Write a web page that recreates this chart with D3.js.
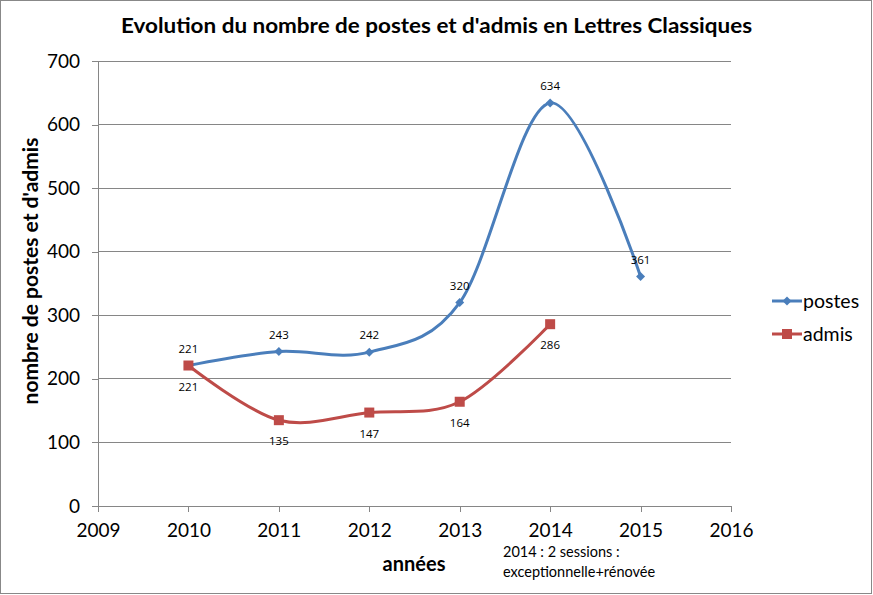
<!DOCTYPE html>
<html><head><meta charset="utf-8">
<script src="https://cdn.jsdelivr.net/npm/d3@7"></script>
<style>body{margin:0;background:#fff}svg{display:block;font-family:Lato,"Open Sans",sans-serif}</style>
</head><body><svg id="c" width="873" height="595"></svg>
<script>
const years = [2010, 2011, 2012, 2013, 2014, 2015];
const postes = [221, 243, 242, 320, 634, 361];
const admisYears = [2010, 2011, 2012, 2013, 2014];
const admis = [221, 135, 147, 164, 286];
const xTicks = [2009, 2010, 2011, 2012, 2013, 2014, 2015, 2016];
const yTicks = [0, 100, 200, 300, 400, 500, 600, 700];
const title = "Evolution du nombre de postes et d'admis en Lettres Classiques";
const yTitle = "nombre de postes et d'admis";
const xTitle = "années";
const note = ["2014 : 2 sessions :", "exceptionnelle+rénovée"];
const seriesNames = ["postes", "admis"];
const colors = ["#4a7ebb", "#be4b48"];

const svg = d3.select("#c");
svg.append("rect").attr("x",0.5).attr("y",0.5).attr("width",871).attr("height",593)
  .attr("fill","#fff").attr("stroke","#888");

const x = d3.scaleLinear().domain([2009,2016]).range([98,731]);
const y = d3.scaleLinear().domain([0,700]).range([506,61]);

// gridlines
svg.append("g").selectAll("line").data(yTicks.filter(d=>d>0)).join("line")
  .attr("x1",x(2009)).attr("x2",x(2016)).attr("y1",d=>y(d)).attr("y2",d=>y(d))
  .attr("stroke","#868686").attr("stroke-width",1).attr("shape-rendering","crispEdges");

// axes
const yAxis = d3.axisLeft(y).tickValues(yTicks).tickSize(6).tickPadding(12);
const gy = svg.append("g").attr("transform",`translate(${x(2009)},0)`).call(yAxis);
const xAxis = d3.axisBottom(x).tickValues(xTicks).tickFormat(d3.format("d")).tickSize(6).tickPadding(14);
const gx = svg.append("g").attr("transform",`translate(0,${y(0)})`).call(xAxis);
[gx,gy].forEach(g=>{
  g.selectAll("path,line").attr("stroke","#868686").attr("shape-rendering","crispEdges");
  g.selectAll("text").attr("font-size",19).attr("fill","#000").attr("font-family","Lato, sans-serif");
});
gx.selectAll("text").attr("dy","0.6em");
gx.select(".domain").attr("d",`M${x(2009)},0.5H${x(2016)}`);
gy.select(".domain").attr("d",`M0.5,${y(0)}V${y(700)}`);

const line = d3.line().x(d=>x(d[0])).y(d=>y(d[1])).curve(d3.curveCatmullRom.alpha(0));
const pData = years.map((yr,i)=>[yr,postes[i]]);
const aData = admisYears.map((yr,i)=>[yr,admis[i]]);

svg.append("path").datum(pData).attr("d",line).attr("fill","none").attr("stroke",colors[0]).attr("stroke-width",3);
svg.append("path").datum(aData).attr("d",line).attr("fill","none").attr("stroke",colors[1]).attr("stroke-width",3);

svg.append("g").selectAll("path").data(pData).join("path")
  .attr("d",d3.symbol().type(d3.symbolSquare).size(40)())
  .attr("transform",d=>`translate(${x(d[0])},${y(d[1])}) rotate(45)`).attr("fill",colors[0]);
svg.append("g").selectAll("rect").data(aData).join("rect")
  .attr("x",d=>x(d[0])-5).attr("y",d=>y(d[1])-5).attr("width",10).attr("height",10).attr("fill",colors[1]);

// data labels
svg.append("g").selectAll("text").data(pData).join("text")
  .attr("x",d=>x(d[0])).attr("y",d=>y(d[1])-13).attr("text-anchor","middle")
  .attr("font-size",11.5).attr("font-family","'Open Sans', sans-serif").attr("fill","#000").text(d=>d[1]);
svg.append("g").selectAll("text").data(aData).join("text")
  .attr("x",d=>x(d[0])).attr("y",d=>y(d[1])+25).attr("text-anchor","middle")
  .attr("font-size",11.5).attr("font-family","'Open Sans', sans-serif").attr("fill","#000").text(d=>d[1]);

// titles
svg.append("text").attr("x",121).attr("y",33)
  .attr("font-size",21).attr("font-weight","bold")
  .attr("textLength",631).attr("lengthAdjust","spacingAndGlyphs").text(title);
svg.append("text").attr("transform","translate(38,271) rotate(-90)").attr("text-anchor","middle")
  .attr("font-size",21).attr("font-weight","bold").text(yTitle);
svg.append("text").attr("x",414).attr("y",571).attr("text-anchor","middle")
  .attr("font-size",20).attr("font-weight","bold").text(xTitle);
svg.append("g").selectAll("text").data(note).join("text")
  .attr("x",503).attr("y",(d,i)=>557+i*20).attr("font-size",14.5).text(d=>d);

// legend
const leg = svg.append("g");
seriesNames.forEach((n,i)=>{
  const ly = 301 + i*33;
  leg.append("line").attr("x1",772).attr("x2",802).attr("y1",ly).attr("y2",ly).attr("stroke",colors[i]).attr("stroke-width",3);
  if(i===0) leg.append("path").attr("d",d3.symbol().type(d3.symbolSquare).size(40)()).attr("transform",`translate(787,${ly}) rotate(45)`).attr("fill",colors[0]);
  else leg.append("rect").attr("x",782).attr("y",ly-5).attr("width",10).attr("height",10).attr("fill",colors[1]);
  leg.append("text").attr("x",803).attr("y",ly+7).attr("font-size",19.5).text(n);
});
</script></body></html>
